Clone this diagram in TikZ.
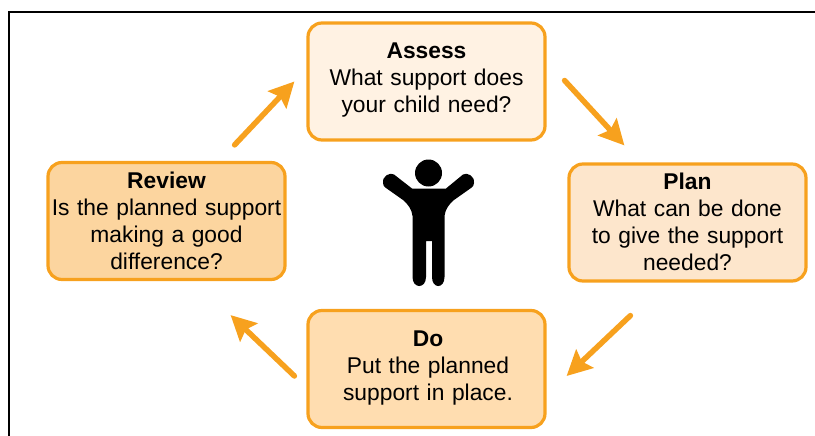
\documentclass[tikz,border=0pt]{standalone}
\usepackage{fontspec}
\setmainfont{Liberation Sans}
\usetikzlibrary{arrows.meta}

\definecolor{cycleline}{HTML}{F7A11E}
\definecolor{assessfill}{HTML}{FFF2E3}
\definecolor{planfill}{HTML}{FDE6CC}
\definecolor{dofill}{HTML}{FFDDB0}
\definecolor{reviewfill}{HTML}{FCD59F}
\tikzset{
  stagebox/.style={draw=cycleline, line width=3.2pt, rounded corners=14pt,
    minimum width=237pt, minimum height=117pt, inner sep=0pt,
    text width=237pt, align=center, font=\fontsize{22.8}{27}\selectfont},
  flow/.style={draw=cycleline, line width=5.5pt, line cap=round,
    -{Stealth[length=25pt,width=25pt,inset=4pt]}}
}

\begin{document}
\begin{tikzpicture}[x=1pt,y=-1pt]
  \useasboundingbox (0,0) rectangle (815,436);
  \draw[line width=2pt] (9,436) -- (9,12.5) -- (815,12.5);

  \node[stagebox, fill=assessfill] (assess) at (426.5,81.5)
    {\textbf{Assess}\\What support does\\your child need?\vspace{2pt}};
  \node[stagebox, fill=planfill] (plan) at (687.5,222.5)
    {\textbf{Plan}\\What can be done\\to give the support\\needed?\vspace{2pt}};
  \node[stagebox, fill=dofill] (do) at (426.5,369)
    {\hspace*{3pt}\textbf{Do}\\\hspace*{3pt}Put the planned\\\hspace*{3pt}support in place.\vspace{2pt}};
  \node[stagebox, fill=reviewfill] (review) at (166.5,221)
    {\textbf{Review}\\Is the planned support\\making a good\\difference?\vspace{1pt}};

  \draw[flow] ([shift={(-52,-16)}]review.north east) -- ([shift={(-12,0)}]assess.west);
  \draw[flow] ([shift={(18,-1)}]assess.east) -- ([shift={(57,-17)}]plan.north west);
  \draw[flow] ([shift={(63,33)}]plan.south west) -- ([shift={(20,7)}]do.east);
  \draw[flow] ([shift={(-12,7)}]do.west) -- ([shift={(-56,34)}]review.south east);

  % the child in the middle
  \begin{scope}[fill=black]
    \fill (428.5,173) circle (13.5);
    \fill (412,188.5) -- (446,188.5) -- (463,174.5)
      .. controls (467,172) and (475,176) .. (474,183)
      .. controls (474,185) and (473,187) .. (471,188)
      -- (454,200) .. controls (449,204) and (445,210) .. (444.5,216)
      -- (444.5,277) .. controls (444.5,289) and (432,289) .. (432,277)
      -- (432,241) -- (426,241) -- (426,277)
      .. controls (426,289) and (412.5,289) .. (412.5,277)
      -- (412.5,216) .. controls (412,210) and (408,204) .. (403,200)
      -- (386,188) .. controls (384,187) and (383,185) .. (383,183)
      .. controls (382,176) and (390,172) .. (394,174.5) -- cycle;
  \end{scope}
\end{tikzpicture}
\end{document}
